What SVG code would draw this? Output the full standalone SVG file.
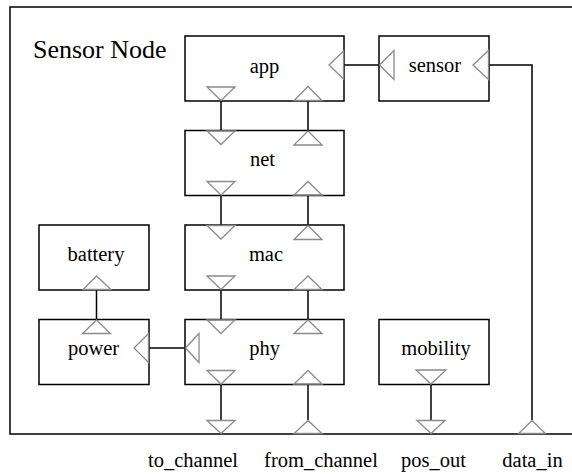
<svg xmlns="http://www.w3.org/2000/svg" width="572" height="476" viewBox="0 0 572 476">
<rect width="572" height="476" fill="#fff"/>
<g id="frame">
<rect x="10" y="7" width="570" height="427" fill="none" stroke="#000" stroke-width="1.5"/>
<text font-family="Liberation Serif" font-size="26" x="33" y="57.5">Sensor Node</text>
</g>
<g id="connectors" fill="none" stroke="#000" stroke-width="1.5">
<line x1="221" y1="101" x2="221" y2="130.5"/>
<line x1="308" y1="101" x2="308" y2="130.5"/>
<line x1="221" y1="195.5" x2="221" y2="225"/>
<line x1="308" y1="195.5" x2="308" y2="225"/>
<line x1="221" y1="290" x2="221" y2="319.5"/>
<line x1="308" y1="290" x2="308" y2="319.5"/>
<line x1="221" y1="384.5" x2="221" y2="420"/>
<line x1="308" y1="384.5" x2="308" y2="420"/>
<line x1="96.5" y1="290" x2="96.5" y2="319.5"/>
<line x1="431" y1="384.5" x2="431" y2="420"/>
<line x1="344" y1="65" x2="379" y2="65"/>
<line x1="149" y1="348" x2="185" y2="348"/>
<polyline points="489,65 532,65 532,420"/>
</g>
<g id="app">
<rect x="185" y="36" width="159" height="65" fill="#fff" stroke="#000" stroke-width="1.5"/>
<text font-family="Liberation Serif" font-size="20.5" text-anchor="middle" x="264.5" y="72.5">app</text>
<g fill="none" stroke="#8a8a8a" stroke-width="1.3">
<polygon points="207,87 235,87 221,100.5"/>
<polygon points="308,86.5 294,100.5 322,100.5"/>
<polygon points="329,65 343.5,51 343.5,79"/>
</g>
</g>
<g id="sensor">
<rect x="379" y="36" width="110" height="65" fill="#fff" stroke="#000" stroke-width="1.5"/>
<text font-family="Liberation Serif" font-size="20.5" text-anchor="middle" x="435" y="72">sensor</text>
<g fill="none" stroke="#8a8a8a" stroke-width="1.3">
<polygon points="379.5,65 394,50.5 394,79.5"/>
<polygon points="473,65 488.5,50.5 488.5,79.5"/>
</g>
</g>
<g id="net">
<rect x="185" y="130.5" width="159" height="65" fill="#fff" stroke="#000" stroke-width="1.5"/>
<text font-family="Liberation Serif" font-size="20.5" text-anchor="middle" x="262.5" y="166">net</text>
<g fill="none" stroke="#8a8a8a" stroke-width="1.3">
<polygon points="207,131 235,131 221,144.5"/>
<polygon points="308,131 294,145 322,145"/>
<polygon points="207,181.5 235,181.5 221,195"/>
<polygon points="308,181.5 294,195 322,195"/>
</g>
</g>
<g id="mac">
<rect x="185" y="225" width="159" height="65" fill="#fff" stroke="#000" stroke-width="1.5"/>
<text font-family="Liberation Serif" font-size="20.5" text-anchor="middle" x="266" y="260.5">mac</text>
<g fill="none" stroke="#8a8a8a" stroke-width="1.3">
<polygon points="207,225.5 235,225.5 221,239"/>
<polygon points="308,225.5 294,239.5 322,239.5"/>
<polygon points="207,276 235,276 221,289.5"/>
<polygon points="308,276 294,289.5 322,289.5"/>
</g>
</g>
<g id="phy">
<rect x="185" y="319.5" width="159" height="65" fill="#fff" stroke="#000" stroke-width="1.5"/>
<text font-family="Liberation Serif" font-size="20.5" text-anchor="middle" x="264.5" y="354.5">phy</text>
<g fill="none" stroke="#8a8a8a" stroke-width="1.3">
<polygon points="207,320 235,320 221,333.5"/>
<polygon points="308,320 294,333.5 322,333.5"/>
<polygon points="207,370.5 235,370.5 221,384"/>
<polygon points="308,370.5 294,384 322,384"/>
<polygon points="185.5,348 199,333.5 199,362.5"/>
</g>
</g>
<g id="battery">
<rect x="39" y="225" width="110" height="65" fill="#fff" stroke="#000" stroke-width="1.5"/>
<text font-family="Liberation Serif" font-size="20.5" text-anchor="middle" x="96" y="260.5">battery</text>
<polygon points="96.5,276 83,289.5 111,289.5" fill="none" stroke="#8a8a8a" stroke-width="1.3"/>
</g>
<g id="power">
<rect x="39" y="319.5" width="110" height="65" fill="#fff" stroke="#000" stroke-width="1.5"/>
<text font-family="Liberation Serif" font-size="20.5" text-anchor="middle" x="93.5" y="354.5">power</text>
<g fill="none" stroke="#8a8a8a" stroke-width="1.3">
<polygon points="96.5,320 82.5,333.5 110.5,333.5"/>
<polygon points="134,348 148.5,333.5 148.5,362.5"/>
</g>
</g>
<g id="mobility">
<rect x="379" y="319.5" width="110" height="65" fill="#fff" stroke="#000" stroke-width="1.5"/>
<text font-family="Liberation Serif" font-size="20.5" text-anchor="middle" x="436" y="354.5">mobility</text>
<polygon points="416,370 446,370 431,384" fill="none" stroke="#8a8a8a" stroke-width="1.3"/>
</g>
<g id="to_channel">
<polygon points="207,420.5 235,420.5 221,433.5" fill="none" stroke="#8a8a8a" stroke-width="1.3"/>
<text font-family="Liberation Serif" font-size="20.5" text-anchor="middle" x="193" y="467">to_channel</text>
</g>
<g id="from_channel">
<polygon points="308,420.5 294,433.5 322,433.5" fill="none" stroke="#8a8a8a" stroke-width="1.3"/>
<text font-family="Liberation Serif" font-size="20.5" text-anchor="middle" x="321" y="467">from_channel</text>
</g>
<g id="pos_out">
<polygon points="417,420.5 445,420.5 431,433.5" fill="none" stroke="#8a8a8a" stroke-width="1.3"/>
<text font-family="Liberation Serif" font-size="20.5" text-anchor="middle" x="433.5" y="467">pos_out</text>
</g>
<g id="data_in">
<polygon points="532,420.5 518.5,433.5 545.5,433.5" fill="none" stroke="#8a8a8a" stroke-width="1.3"/>
<text font-family="Liberation Serif" font-size="20.5" text-anchor="middle" x="532.5" y="467">data_in</text>
</g>
</svg>
